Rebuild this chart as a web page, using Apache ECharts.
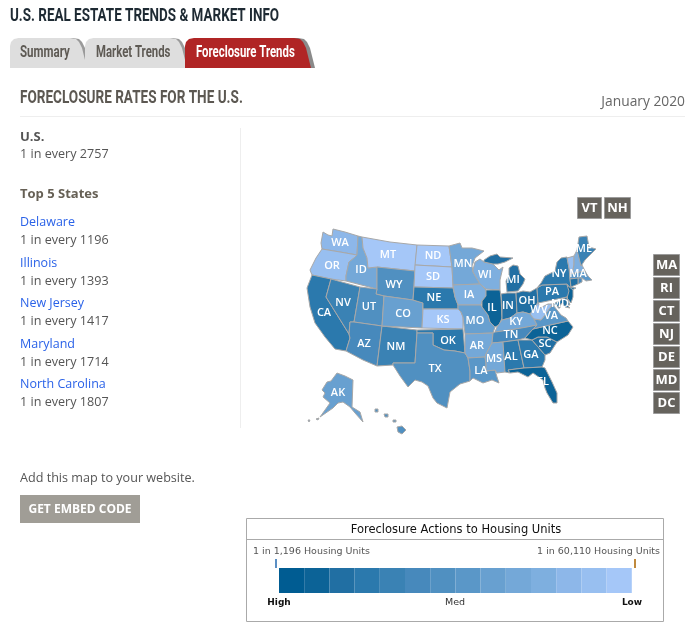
<!DOCTYPE html>
<html><head><meta charset="utf-8">
<style>html,body{margin:0;padding:0;background:#fff}#c{width:698px;height:633px}</style>
<script src="https://cdn.jsdelivr.net/npm/echarts@6/dist/echarts.min.js"></script>
</head><body><div id="c"></div>
<script>
// Data
const stateCodes = ['WA','OR','CA','NV','ID','MT','WY','UT','AZ','NM','CO','ND','SD','NE','KS','OK','TX','MN','IA','MO','AR','LA','WI','IL','MI','IN','OH','KY','TN','MS','AL','GA','FL','SC','NC','VA','WV','PA','NY','VT','NH','ME','MA','RI','CT','NJ','DE','MD','DC','AK','HI'];
const stateLevels = [12,13,4,5,10,14,7,7,6,5,9,14,14,4,14,4,7,10,11,9,10,8,11,2,3,3,3,10,6,10,4,4,2,3,2,8,13,4,4,13,11,5,8,6,3,2,1,3,6,9,7];
const scaleColors = ['#005c92','#0c6397','#216fa3','#2b79ad','#3a82b4','#4789bc','#5090c1','#5a97c8','#68a0d0','#74a8d8','#7eafdf','#8db7e9','#98bff0','#a5c7f8'];
const unlabeled = ['VT','NH','RI','CT','NJ','DE','DC','HI'];
const usTotal = '1 in every 2757';
const topStates = ['Delaware','Illinois','New Jersey','Maryland','North Carolina'];
const topRates = ['1 in every 1196','1 in every 1393','1 in every 1417','1 in every 1714','1 in every 1807'];
const tabs = ['Summary','Market Trends','Foreclosure Trends'];
const buttonsTop = ['VT','NH'];
const buttonsSide = ['MA','RI','CT','NJ','DE','MD','DC'];
const scaleEnds = ['1 in 1,196 Housing Units','1 in 60,110 Housing Units'];
const scaleWords = ['High','Med','Low'];

// Base map outlines (state name: rings) and label anchors
const outlines = {
WA:[[[323,232],[328,235],[332,236],[333,229],[345,232],[358,236],[357,255],[340,252],[322,249],[321,243]]],
OR:[[[322,249],[340,252],[357,255],[354,258],[349,262],[346,276],[346,281],[331,279],[312,275],[310,270],[316,258]]],
CA:[[[312,275],[331,279],[326,297],[349,334],[350,338],[346,351],[335,349],[325,337],[315,323],[310,307],[307,288]]],
NV:[[[331,279],[360,287],[354,322],[350,322],[349,334],[326,297]]],
ID:[[[358,236],[362,237],[363,248],[367,258],[368,268],[377,267],[377,289],[346,281],[346,276],[349,262],[354,258],[357,255]]],
MT:[[[362,237],[390,242],[417,245],[415,271],[377,267],[368,268],[367,258],[363,248]]],
WY:[[[377,267],[415,271],[413,300],[384,296],[376,294],[377,289]]],
UT:[[[360,287],[377,289],[376,294],[384,296],[382,326],[354,322]]],
AZ:[[[354,322],[382,326],[377,366],[363,360],[346,351],[350,338],[349,334],[350,322]]],
NM:[[[382,326],[417,330],[417,333],[415,363],[393,363],[393,365],[377,366]]],
CO:[[[384,296],[413,300],[423,303],[422,328],[382,326]]],
ND:[[[417,245],[449,246],[452,267],[415,265]]],
SD:[[[415,265],[452,267],[453,285],[453,288],[414,287]]],
NE:[[[414,287],[453,288],[455,297],[458,305],[458,309],[423,309],[423,303],[413,300]]],
KS:[[[423,309],[458,309],[461,312],[463,317],[463,329],[422,328]]],
OK:[[[417,330],[463,329],[465,353],[455,351],[444,350],[433,345],[433,333],[417,333]]],
TX:[[[417,333],[433,333],[433,345],[444,350],[455,351],[465,353],[468,358],[470,371],[470,381],[460,384],[450,392],[447,408],[437,403],[433,398],[428,386],[422,382],[415,380],[408,387],[400,376],[393,365],[393,363],[415,363]]],
MN:[[[449,246],[460,243],[462,248],[472,248],[484,251],[475,258],[472,266],[473,272],[480,284],[453,285],[452,267]]],
IA:[[[453,285],[480,284],[486,290],[486,296],[482,301],[481,305],[458,305],[455,297]]],
MO:[[[458,305],[481,305],[482,307],[488,315],[490,322],[495,327],[493,333],[465,334],[463,317],[461,312],[458,309]]],
AR:[[[465,334],[493,333],[492,343],[486,354],[485,357],[468,358],[465,353]]],
LA:[[[468,358],[485,357],[486,363],[486,371],[495,370],[497,377],[499,383],[492,380],[483,383],[473,378],[470,381],[470,371]]],
WI:[[[473,270],[475,262],[480,259],[484,262],[493,264],[499,270],[503,267],[500,280],[500,290],[486,289],[480,284],[473,272]]],
IL:[[[486,290],[500,290],[501,297],[502,318],[499,325],[495,327],[490,322],[488,315],[482,307],[482,301],[486,296]]],
MI:[[[484,260],[490,256],[497,254],[500,257],[513,258],[505,262],[498,264],[493,264],[484,262]],[[509,268],[513,265],[518,266],[520,274],[525,279],[523,284],[518,291],[507,292],[506,281],[509,275]]],
IN:[[[501,294],[507,293],[516,293],[517,313],[510,318],[502,320],[502,305]]],
OH:[[[516,293],[523,291],[530,292],[537,288],[538,302],[535,308],[530,314],[523,312],[517,313]]],
KY:[[[495,332],[497,327],[502,320],[510,318],[517,313],[523,312],[530,314],[534,319],[537,325],[527,327],[510,330]]],
TN:[[[493,333],[495,332],[510,330],[527,327],[537,325],[533,329],[525,338],[518,340],[503,342],[492,343]]],
MS:[[[492,343],[503,342],[505,372],[497,373],[495,370],[486,371],[486,363],[485,357],[486,354]]],
AL:[[[503,342],[518,340],[524,368],[508,370],[510,373],[505,372]]],
GA:[[[518,340],[532,340],[545,355],[545,360],[542,367],[524,368]]],
FL:[[[508,370],[524,368],[542,367],[545,368],[552,382],[557,393],[557,403],[553,403],[547,393],[545,388],[543,380],[533,373],[528,377],[518,372],[510,373]]],
SC:[[[532,340],[538,337],[547,337],[557,342],[550,353],[545,355]]],
NC:[[[525,338],[533,329],[550,325],[568,321],[573,327],[568,335],[557,342],[547,337],[538,337],[532,340]]],
VA:[[[533,329],[537,325],[534,319],[541,320],[545,315],[549,309],[553,305],[557,310],[561,315],[566,318],[568,321],[550,325]]],
WV:[[[538,302],[540,308],[548,304],[553,304],[549,309],[545,315],[541,320],[534,319],[530,314],[535,308]]],
PA:[[[537,288],[542,285],[567,284],[572,290],[567,297],[538,303]]],
NY:[[[537,288],[541,283],[545,276],[555,271],[557,262],[561,258],[567,257],[569,268],[570,279],[571,287],[576,288],[572,290],[567,284],[542,285]]],
VT:[[[567,258],[574,256],[574,265],[572,274],[570,274],[569,268]]],
NH:[[[574,256],[577,250],[582,265],[585,271],[572,274],[574,265]]],
ME:[[[579,237],[587,236],[589,247],[596,249],[585,260],[581,266],[577,250]]],
MA:[[[570,274],[585,271],[588,276],[592,280],[586,281],[582,278],[570,279]]],
RI:[[[578,278],[582,278],[582,282],[578,284]]],
CT:[[[570,279],[578,278],[578,284],[571,287]]],
NJ:[[[567,285],[573,290],[573,297],[571,303],[567,298],[569,291]]],
DE:[[[567,297],[568,300],[570,305],[567,305]]],
MD:[[[553,304],[567,297],[567,305],[570,308],[565,307],[562,303],[559,307],[556,306]]],
DC:[[[558,306],[560,306],[560,308],[558,308]]],
AK:[[[337,373],[345,376],[353,380],[352,407],[360,412],[363,422],[355,413],[350,407],[343,402],[338,403],[333,408],[320,417],[330,403],[323,397],[325,393],[322,390],[327,382],[331,381]],[[316,419],[319,418],[318,420]],[[308,420],[310,420],[309,422]]],
HI:[[[397,427],[402,426],[406,430],[402,434],[398,432]],[[384,414],[388,414],[388,417],[385,417]],[[375,409],[378,409],[378,412],[375,412]],[[393,420],[396,420],[396,422],[393,422]]]
};
const anchors = {WA:[340,243],OR:[332,266],CA:[324,313],NV:[343,303],ID:[361,270],MT:[388,255],WY:[394,285],UT:[369,307],AZ:[364,344],NM:[396,347],CO:[403,314],ND:[433,256],SD:[433,277],NE:[434,298],KS:[443,320],OK:[448,341],TX:[435,369],MN:[463,264],WI:[485,275],IA:[469,295],MO:[475,321],AR:[477,346],LA:[481,371],MS:[494,359],IL:[492,308],IN:[508,306],MI:[513,280],OH:[527,301],KY:[516,322],TN:[511,335],AL:[511,357],GA:[531,355],SC:[545,344],NC:[550,331],FL:[543,382],VA:[551,316],WV:[539,310],PA:[552,292],NY:[559,274],ME:[584,249],MA:[578,274],MD:[560,304],AK:[338,393]};

const usMap = {type:'FeatureCollection',features:Object.keys(outlines).map(n=>({
  type:'Feature',
  properties:{name:n,cp:anchors[n]||outlines[n][0][0]},
  geometry:{type:'MultiPolygon',coordinates:outlines[n].map(r=>[r])}
}))};
echarts.registerMap('usaTrace',usMap);

const BODY='"Open Sans",sans-serif', COND='Roboto,sans-serif', LEG='"DejaVu Sans",sans-serif';
function txt(text,x,y,size,color,opt){opt=opt||{};return {type:'text',x:x,y:y,scaleX:opt.sx||1,silent:true,z:20,style:{text:text,fontSize:size,fontFamily:opt.font||BODY,fontWeight:opt.weight||'normal',fill:color,align:opt.align||'left',verticalAlign:'middle'}};}
function poly(points,fill,z){return {type:'polygon',silent:true,z:z,shape:{points:points},style:{fill:fill}};}
function rect(x,y,w,h,fill,stroke,z){return {type:'rect',silent:true,z:z||10,shape:{x:x,y:y,width:w,height:h},style:{fill:fill,stroke:stroke||null,lineWidth:1}};}
function tab(l,r,dx,fill,z){return poly([[l+dx,68],[l+dx,46],[l+dx+1,42],[l+dx+4,39],[l+dx+9,38],[r-17+dx,38],[r-11+dx,39],[r-8+dx,42],[r-5+dx,48],[r+dx,68]],fill,z);}

const g=[];
g.push(txt('U.S. REAL ESTATE TRENDS & MARKET INFO',10,16,18,'#1e2a33',{font:COND,weight:'bold',sx:.747}));
// tabs
g.push(tab(10,87,3,'#9a9a9a',5));
g.push(tab(10,87,0,'#dedede',6));
g.push(tab(85,187,3,'#9a9a9a',7));
g.push(tab(85,187,0,'#dedede',8));
g.push(tab(185,311,4,'#8a8a8a',9));
g.push(tab(185,311,0,'#b02525',10));
g.push(txt(tabs[0],20,52.5,16,'#5e5a54',{font:COND,weight:'bold',sx:.72}));
g.push(txt(tabs[1],96,52.5,16,'#5e5a54',{font:COND,weight:'bold',sx:.71}));
g.push(txt(tabs[2],196,52.5,16,'#ffffff',{font:COND,weight:'bold',sx:.71}));
g.push(txt('FORECLOSURE RATES FOR THE U.S.',20,98,18,'#5c5852',{font:COND,weight:'bold',sx:.753}));
g.push(txt('January 2020',685,102,13.8,'#666666',{align:'right'}));
g.push(rect(20,116,665,1,'#eeeeee'));
g.push(rect(240,128,1,300,'#eeeeee'));
// side text
g.push(txt('U.S.',20,137,13,'#555555',{weight:'bold'}));
g.push(txt(usTotal,20,154,12.6,'#555555'));
g.push(txt('Top 5 States',20,194,13,'#666055',{weight:'bold'}));
const nameY=[222,263,303,344,384];
topStates.forEach((s,i)=>{
  g.push(txt(s,20,nameY[i]+.5,12.5,'#2a62e8'));
  g.push(txt(topRates[i],20,nameY[i]+18,12.6,'#555555'));
});
g.push(txt('Add this map to your website.',20,478,12.6,'#555555'));
g.push(rect(20,495,120,28,'#a09d96'));
g.push(txt('GET EMBED CODE',80,510,12,'#ffffff',{align:'center',weight:'bold'}));
// small-state buttons
const bx=[[577,24],[604,26]];
buttonsTop.forEach((b,i)=>{
  g.push(rect(bx[i][0]+.5,197.5,bx[i][1],21,'#66635d','#9c9c9c'));
  g.push(txt(b,bx[i][0]+bx[i][1]/2+.5,208.5,13,'#ffffff',{align:'center',weight:'bold'}));
});
buttonsSide.forEach((b,i)=>{
  const y=254.5+i*23;
  g.push(rect(653.5,y,26,21,'#66635d','#9c9c9c'));
  g.push(txt(b,666.5,y+11,13,'#ffffff',{align:'center',weight:'bold'}));
});
// legend box
g.push(rect(246.5,518.5,417,103,'#ffffff','#aaaaaa',1));
g.push(rect(247,539,416,1,'#aaaaaa',null,2));
g.push(txt('Foreclosure Actions to Housing Units',456,530,11.5,'#111111',{font:LEG,align:'center'}));
g.push(txt(scaleEnds[0],253,552,9.5,'#555555',{font:LEG}));
g.push(txt(scaleEnds[1],660,552,9.5,'#555555',{font:LEG,align:'right'}));
g.push(rect(275,559,2,9,'#5b8fc4'));
g.push(rect(634,559,2,9,'#c08a3e'));
g.push(txt(scaleWords[0],279,603,9,'#111111',{font:LEG,align:'center',weight:'bold'}));
g.push(txt(scaleWords[1],455,603,9.5,'#333333',{font:LEG,align:'center'}));
g.push(txt(scaleWords[2],632,603,9,'#111111',{font:LEG,align:'center',weight:'bold'}));

const chart=echarts.init(document.getElementById('c'));
chart.setOption({
  animation:false,
  backgroundColor:'#fff',
  graphic:{elements:g},
  visualMap:{
    type:'piecewise',orient:'horizontal',left:279,top:568,padding:0,itemGap:0,itemWidth:25.2,itemHeight:25,
    showLabel:false,selectedMode:false,hoverLink:false,itemSymbol:'rect',z:15,
    pieces:scaleColors.map((c,i)=>({value:i+1,color:c,symbol:'rect'}))
  },
  series:[{
    type:'map',map:'usaTrace',silent:true,roam:false,
    projection:{project:p=>[p[0],p[1]],unproject:p=>[p[0],p[1]]},
    left:307,top:229,width:289,height:205,
    itemStyle:{borderColor:'#a8a8a8',borderWidth:1,areaColor:'#a5c7f8'},
    label:{show:true,color:'#fff',fontSize:11,fontFamily:BODY,fontWeight:600,
      formatter:p=>unlabeled.includes(p.name)?'':p.name},
    data:stateCodes.map((s,i)=>({name:s,value:stateLevels[i]}))
  }]
});
</script></body></html>
